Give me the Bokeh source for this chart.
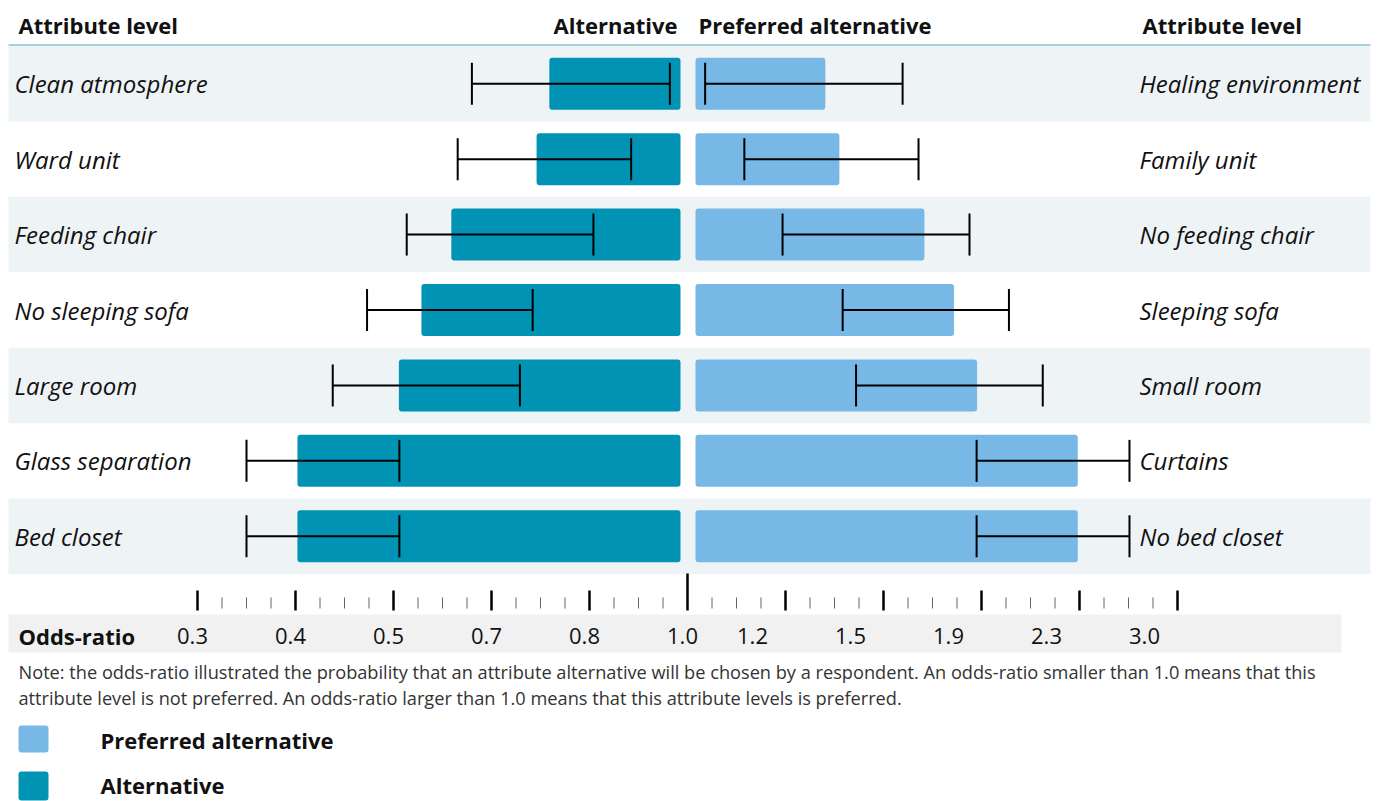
import numpy as np
from bokeh.plotting import figure
from bokeh.models import Range1d
from bokeh.core.properties import value
from bokeh.embed import file_html
from bokeh.resources import INLINE

# ---------------- data ----------------
left_levels = ["Clean atmosphere", "Ward unit", "Feeding chair", "No sleeping sofa",
               "Large room", "Glass separation", "Bed closet"]
right_levels = ["Healing environment", "Family unit", "No feeding chair", "Sleeping sofa",
                "Small room", "Curtains", "No bed closet"]

# odds-ratio of the (non preferred) alternative and its confidence interval
alt_or = [0.759, 0.746, 0.618, 0.557, 0.511, 0.402, 0.402]
alt_lo = [0.660, 0.631, 0.527, 0.473, 0.438, 0.350, 0.350]
alt_hi = [0.964, 0.885, 0.808, 0.742, 0.729, 0.512, 0.512]

# odds-ratio of the preferred alternative and its confidence interval
pref_or = [1.322, 1.365, 1.667, 1.788, 1.882, 2.293, 2.293]
pref_lo = [1.036, 1.116, 1.194, 1.375, 1.416, 1.880, 1.880]
pref_hi = [1.578, 1.643, 1.851, 2.012, 2.150, 2.657, 2.657]

tick_values = [0.3, 0.4, 0.5, 0.7, 0.8, 1.0, 1.2, 1.5, 1.9, 2.3, 3.0]
tick_labels = ["0.3", "0.4", "0.5", "0.7", "0.8", "1.0", "1.2", "1.5", "1.9", "2.3", "3.0"]

note_lines = [
    "Note: the odds-ratio illustrated the probability that an attribute alternative will be chosen by a respondent. An odds-ratio smaller than 1.0 means that this",
    "attribute level is not preferred. An odds-ratio larger than 1.0 means that this attribute levels is preferred.",
]

# ---------------- style ----------------
TEAL = "#0093b4"
LIGHT = "#77b8e6"
BAND = "#eef3f6"
FONT = "Open Sans"
INK = "#111111"

W, H = 1383, 801
X0, DX = 197.0, 98.0   # screen x of first tick and spacing between ticks


def px(xpix):
    """screen pixel -> axis unit (tick index)"""
    return (np.asarray(xpix, dtype=float) - X0) / DX


tick_idx = np.arange(len(tick_values), dtype=float)


def scale(v):
    return np.interp(np.asarray(v, dtype=float), tick_values, tick_idx)


def rounded(renderer, r=3):
    try:
        renderer.glyph.border_radius = r
    except Exception:
        pass
    return renderer


center = float(scale(1.0))
gap_l, gap_r = 7 / DX, 8 / DX

p = figure(width=W, height=H, output_backend="svg", toolbar_location=None,
           x_range=Range1d(float(px(0)), float(px(W))),
           y_range=Range1d(H, 0), min_border=0)
p.axis.visible = False
p.grid.visible = False
p.outline_line_color = None

n = len(left_levels)
row_top = 45.5
row_h = 75.43
yc = np.array([row_top + row_h * (i + 0.5) for i in range(n)])

# alternating row bands
band_i = [i for i in range(n) if i % 2 == 0]
p.quad(left=float(px(8)), right=float(px(1370)),
       top=[row_top + row_h * i for i in band_i],
       bottom=[row_top + row_h * (i + 1) for i in band_i],
       fill_color=BAND, line_color=None)

# header line
p.segment(x0=[float(px(8))], x1=[float(px(1370))], y0=[44.5], y1=[44.5],
          line_color="#a6d2df", line_width=2)

# bars
bh = 26
rounded(p.quad(left=scale(alt_or), right=center - gap_l, top=yc - bh, bottom=yc + bh,
               fill_color=TEAL, line_color=None))
rounded(p.quad(left=center + gap_r, right=scale(pref_or), top=yc - bh, bottom=yc + bh,
               fill_color=LIGHT, line_color=None))

# error bars
cap = 21
for lo, hi in ((alt_lo, alt_hi), (pref_lo, pref_hi)):
    xl, xh = scale(lo), scale(hi)
    p.segment(x0=xl, x1=xh, y0=yc, y1=yc, line_color="black", line_width=2)
    p.segment(x0=np.concatenate([xl, xh]), x1=np.concatenate([xl, xh]),
              y0=np.concatenate([yc - cap, yc - cap]), y1=np.concatenate([yc + cap, yc + cap]),
              line_color="black", line_width=2)

# row labels
p.text(x=[float(px(14))] * n, y=yc, text=left_levels, text_font=value(FONT),
       text_font_style="italic", text_font_size="24px", text_baseline="middle",
       text_align="left", text_color=INK)
p.text(x=[float(px(1139))] * n, y=yc, text=right_levels, text_font=value(FONT),
       text_font_style="italic", text_font_size="24px", text_baseline="middle",
       text_align="left", text_color=INK)

# headers
hdr_y = 24
p.text(x=[float(px(18)), float(px(1142)), float(px(698))], y=[hdr_y] * 3,
       text=["Attribute level", "Attribute level", "Preferred alternative"],
       text_font=value(FONT), text_font_style="bold", text_font_size="22px",
       text_baseline="middle", text_align="left", text_color=INK)
p.text(x=[float(px(677))], y=[hdr_y], text=["Alternative"],
       text_font=value(FONT), text_font_style="bold", text_font_size="22px",
       text_baseline="middle", text_align="right", text_color=INK)

# axis band
p.quad(left=float(px(8)), right=float(px(1341)), top=[614], bottom=[652],
       fill_color="#f1f1f1", line_color=None)

# ticks
major = [t for t in tick_idx if t != center]
p.segment(x0=major, x1=major, y0=590, y1=610, line_color="black", line_width=2.5)
p.segment(x0=[center], x1=[center], y0=573, y1=610, line_color="black", line_width=2.5)
minor = [t + f for t in tick_idx[:-1] for f in (0.25, 0.5, 0.75)]
p.segment(x0=minor, x1=minor, y0=597, y1=608, line_color="#666666", line_width=1)

# tick labels (right-hand labels sit left of their ticks, as in the source)
lab_shift = np.array([-5 if t <= center else -33 for t in tick_idx]) / DX
p.text(x=tick_idx + lab_shift, y=[635] * len(tick_idx), text=tick_labels,
       text_font=value(FONT), text_font_size="22px", text_baseline="middle",
       text_align="center", text_color=INK)
p.text(x=[float(px(18))], y=[635], text=["Odds-ratio"], text_font=value(FONT),
       text_font_style="bold", text_font_size="22px", text_baseline="middle",
       text_align="left", text_color=INK)

# note
p.text(x=[float(px(18))] * 2, y=[671, 697], text=note_lines, text_font=value(FONT),
       text_font_size="18.2px", text_baseline="middle", text_align="left",
       text_color="#333333")

# legend
rounded(p.quad(left=float(px(18)), right=float(px(48)), top=[725, 771], bottom=[752, 800],
               fill_color=[LIGHT, TEAL], line_color=None))
p.text(x=[float(px(100))] * 2, y=[739, 784], text=["Preferred alternative", "Alternative"],
       text_font=value(FONT), text_font_style="bold", text_font_size="22px",
       text_baseline="middle", text_align="left", text_color=INK)

open("out.html", "w").write(file_html(p, INLINE))
